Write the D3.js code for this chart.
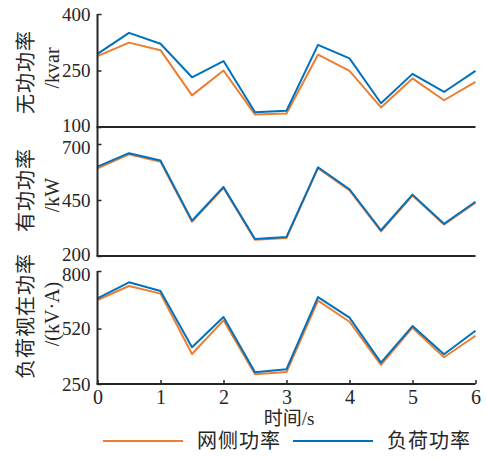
<!DOCTYPE html>
<html>
<head>
<meta charset="utf-8">
<script src="https://cdn.jsdelivr.net/npm/d3@7/dist/d3.min.js"></script>
<style>
  body { margin: 0; background: #fff; }
  text { font-family: "Liberation Serif", "Noto Sans CJK SC", serif; fill: #262626; }
</style>
</head>
<body>
<svg id="chart" width="486" height="459"></svg>
<script>
// time axis (s)
var time = [0, 0.5, 1, 1.5, 2, 2.5, 3, 3.5, 4, 4.5, 5, 5.5, 6];
var xTicks = [0, 1, 2, 3, 4, 5, 6];

// reactive power /kvar
var qGrid = [288, 324, 304, 184, 250, 133, 136, 292, 249, 152, 229, 171, 220];
var qLoad = [294, 350, 321, 232, 275, 139, 143, 318, 282, 163, 241, 193, 249];
var qTicks = [100, 250, 400];

// active power /kW
var pGrid = [591, 654, 621, 353, 504, 272, 280, 592, 493, 310, 470, 340, 438];
var pLoad = [599, 659, 626, 358, 508, 276, 285, 596, 498, 315, 474, 344, 442];
var pTicks = [200, 450, 700];

// apparent power /(kV·A)
var sGrid = [659, 727, 690, 396, 560, 297, 308, 656, 553, 343, 524, 380, 485];
var sLoad = [667, 745, 703, 429, 576, 307, 322, 673, 573, 354, 532, 395, 509];
var sTicks = [250, 520, 800];

var seriesNames = ["网侧功率", "负荷功率"];
var colors = ["#ED7D31", "#0072BD"];

var svg = d3.select("#chart");
var x = d3.scaleLinear().domain([0, 6]).range([97.5, 475.5]);

var panels = [
  { grid: qGrid, load: qLoad, ticks: qTicks, domain: [100, 400], range: [127, 14], axisTop: 14,
    label1: "无功功率", label2: "/kvar", labelY: 72, label2Y: 68, xTicks: false },
  { grid: pGrid, load: pLoad, ticks: pTicks, domain: [200, 700], range: [256, 144], axisTop: 127,
    label1: "有功功率", label2: "/kW", labelY: 190, label2Y: 195, xTicks: false },
  { grid: sGrid, load: sLoad, ticks: sTicks, domain: [250, 800], range: [384, 271], axisTop: 271,
    label1: "负荷视在功率", label2: "/(kV·A)", labelY: 316, label2Y: 314, xTicks: true }
];

panels.forEach(function (p, pi) {
  var y = d3.scaleLinear().domain(p.domain).range(p.range);
  var bottom = p.range[0];

  // series lines: grid first, load on top
  var line = d3.line()
    .x(function (d, i) { return x(time[i]); })
    .y(function (d) { return y(d); });

  [p.grid, p.load].forEach(function (vals, k) {
    svg.append("path")
      .attr("d", line(vals))
      .attr("fill", "none")
      .attr("stroke", colors[k])
      .attr("stroke-width", 2)
      .attr("stroke-linejoin", "round");
  });

  // left axis
  var yAxis = d3.axisLeft(y).tickValues(p.ticks).tickSizeInner(-4).tickSizeOuter(0).tickPadding(7);
  var gy = svg.append("g").attr("transform", "translate(" + x(0) + ",0)").call(yAxis);
  gy.select(".domain").remove();
  gy.selectAll("line").attr("stroke", "#262626").attr("stroke-width", 1.5);
  gy.selectAll("text").attr("font-size", 19).attr("fill", "#262626");
  // nudge labels apart where neighbouring panels meet
  gy.selectAll("text").attr("dy", function (d) {
    if (d === p.ticks[0] && pi < 2) return "0.22em";
    if (d === p.ticks[2] && pi > 0) return "0.52em";
    return "0.32em";
  });

  svg.append("line")
    .attr("x1", x(0)).attr("x2", x(0))
    .attr("y1", p.axisTop).attr("y2", bottom)
    .attr("stroke", "#262626").attr("stroke-width", 2);

  // bottom axis
  var gx = svg.append("g").attr("transform", "translate(0," + bottom + ")");
  if (p.xTicks) {
    gx.call(d3.axisBottom(x).tickValues(xTicks).tickFormat(d3.format("d"))
      .tickSizeInner(-4).tickSizeOuter(0).tickPadding(6));
    gx.selectAll("line").attr("stroke", "#262626").attr("stroke-width", 1.5);
    gx.selectAll("text").attr("font-size", 20).attr("fill", "#262626");
    gx.select(".domain").remove();
  }
  gx.append("line")
    .attr("x1", x(0) - 1).attr("x2", x(6))
    .attr("stroke", "#262626").attr("stroke-width", 2);

  // y labels (two rotated lines)
  svg.append("text")
    .attr("transform", "translate(26," + p.labelY + ") rotate(-90)")
    .attr("text-anchor", "middle").attr("dominant-baseline", "central")
    .attr("font-size", 20).attr("letter-spacing", 1)
    .text(p.label1);
  svg.append("text")
    .attr("transform", "translate(52," + p.label2Y + ") rotate(-90)")
    .attr("text-anchor", "middle").attr("dominant-baseline", "central")
    .attr("font-size", 20)
    .text(p.label2);
});

// x label
svg.append("text")
  .attr("x", 289).attr("y", 418)
  .attr("text-anchor", "middle").attr("dominant-baseline", "central")
  .attr("font-size", 19)
  .text("时间/s");

// legend
var legendX = [103, 293];
seriesNames.forEach(function (name, k) {
  svg.append("line")
    .attr("x1", legendX[k]).attr("x2", legendX[k] + 80)
    .attr("y1", 441).attr("y2", 441)
    .attr("stroke", colors[k]).attr("stroke-width", 2);
  svg.append("text")
    .attr("x", legendX[k] + 94).attr("y", 441)
    .attr("dominant-baseline", "central")
    .attr("font-size", 20).attr("letter-spacing", 1)
    .text(name);
});
</script>
</body>
</html>
